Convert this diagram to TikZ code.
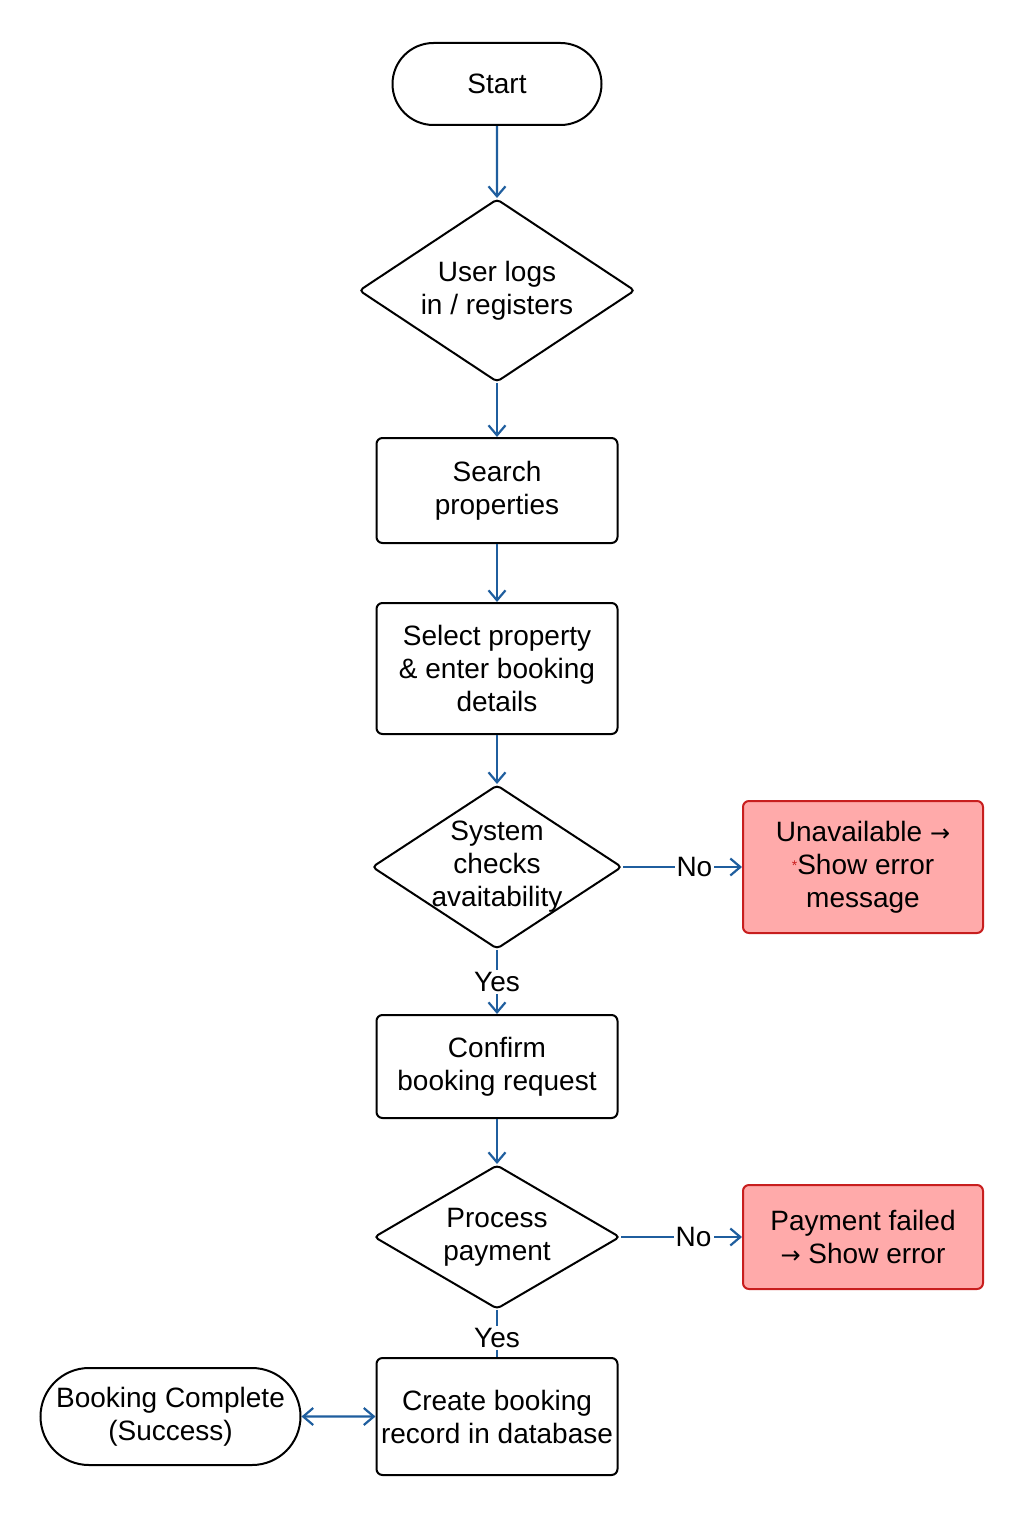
\documentclass[tikz,border=0pt]{standalone}
\usepackage{fontspec}
\setmainfont{Liberation Sans}
\newfontfamily\symfont{DejaVu Sans}
\usepackage{xcolor}
\usetikzlibrary{positioning,shapes.geometric,shapes.misc,arrows.meta}
\definecolor{flowblue}{RGB}{31,94,158}
\definecolor{errfill}{RGB}{255,170,170}
\definecolor{errline}{RGB}{200,30,30}
\newcommand{\rarr}{{\symfont\fontsize{12}{12}\selectfont →}}

\begin{document}
\begin{tikzpicture}[node distance=30pt,
  font=\fontsize{14}{16.5}\selectfont,
  box/.style={draw,line width=1pt,rounded corners=3pt,minimum width=120.5pt,align=center,inner sep=2pt},
  term/.style={draw,line width=1pt,rounded rectangle,align=center,inner sep=2pt},
  decision/.style={draw,line width=1pt,diamond,rounded corners=2pt,align=center,inner sep=-15pt},
  errbox/.style={box,fill=errfill,draw=errline,minimum width=120pt},
  flow/.style={->,draw=flowblue,line width=1.1pt,>={Straight Barb[length=5pt,width=8.5pt,line width=1.1pt]}},
  lbl/.style={fill=white,inner sep=1pt,text=black}]
  \useasboundingbox (0,0) rectangle (512pt,-768pt);
  % main column
  \node[term,minimum width=108.5pt,minimum height=41pt] (start) at (248.5pt,-42pt) {Start};
  \node[decision,minimum width=138pt,minimum height=91.5pt,below=36pt of start] (login) {User logs\\in / registers};
  \node[box,minimum height=52.5pt,below=27pt of login] (search) {Search\\properties};
  \node[box,minimum height=65.5pt,below=29pt of search] (select) {Select property\\\& enter booking\\details};
  \node[decision,minimum width=125pt,minimum height=82pt,below=24.5pt of select] (avail) {System\\checks\\avaitability};
  \node[box,minimum height=51.5pt,below=32pt of avail] (confirm) {Confirm\\booking request};
  \node[decision,minimum width=123pt,minimum height=72pt,below=22.5pt of confirm] (pay) {Process\\payment};
  \node[box,minimum height=58.5pt,below=23.5pt of pay] (create) {Create booking\\record in database};
  % side nodes
  \node[errbox,minimum height=66pt,right=59.5pt of avail] (unavail) {Unavailable \rarr\\\textcolor{errline}{\raisebox{2pt}{\scriptsize*}}Show error\\message};
  \node[errbox,minimum height=52pt,right=60.5pt of pay] (payfail) {Payment failed\\\rarr\ Show error};
  \node[term,minimum width=134pt,minimum height=48.5pt,left=37pt of create] (done) {Booking Complete\\(Success)};
  % connectors
  \path[flow] (start) edge (login)
    (login) edge (search)
    (search) edge (select)
    (select) edge (avail)
    (avail) edge node[lbl]{Yes} (confirm)
    (confirm) edge (pay)
    (avail) edge node[lbl,pos=.6]{No} (unavail)
    (pay) edge node[lbl,pos=.6]{No} (payfail);
  \draw[draw=flowblue,line width=1.1pt] (pay) -- node[lbl,pos=.6]{Yes} (create);
  \draw[flow,<->] (done) -- (create);
\end{tikzpicture}
\end{document}
